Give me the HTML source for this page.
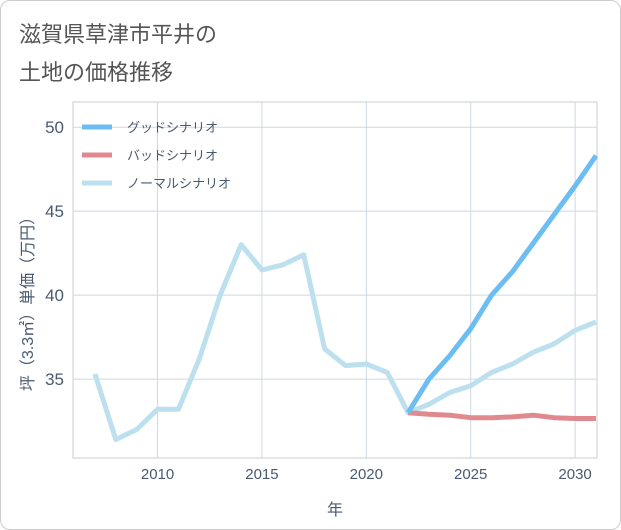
<!DOCTYPE html>
<html><head><meta charset="utf-8">
<style>
body{margin:0;background:#fff;}
#wrap{position:relative;width:619px;height:528px;border:1px solid #ccc;border-radius:10px;overflow:hidden;background:#fff;font-family:"Liberation Sans","Noto Sans CJK JP",sans-serif;}
.title{position:absolute;left:18px;color:#555;font-size:22px;}
</style></head><body>
<div id="wrap">
<div class="title" style="top:16px">滋賀県草津市平井の</div>
<div class="title" style="top:54px">土地の価格推移</div>
<svg id="chart" width="621" height="530" style="position:absolute;left:-1px;top:-1px"></svg>
</div>
<script>
const years=[2007,2008,2009,2010,2011,2012,2013,2014,2015,2016,2017,2018,2019,2020,2021,2022,2023,2024,2025,2026,2027,2028,2029,2030,2031];
const normalVals=[35.3,31.4,32.0,33.2,33.2,36.2,40.0,43.0,41.5,41.8,42.4,36.8,35.8,35.9,35.4,33.0,33.5,34.2,34.6,35.4,35.9,36.6,37.1,37.9,38.4];
const futureYears=[2022,2023,2024,2025,2026,2027,2028,2029,2030,2031];
const goodVals=[33.0,35.0,36.4,38.0,40.0,41.4,43.1,44.8,46.5,48.3];
const badVals=[33.0,32.9,32.85,32.7,32.7,32.75,32.85,32.7,32.65,32.65];
const xTicks=[2010,2015,2020,2025,2030];
const yTicks=[35,40,45,50];
const X0=73,X1=597,Y0=102,Y1=458;
const xd=[2005.95,2031.05],yd=[30.3,51.5];
const xs=v=>X0+(v-xd[0])/(xd[1]-xd[0])*(X1-X0);
const ys=v=>Y1-(v-yd[0])/(yd[1]-yd[0])*(Y1-Y0);
const svg=document.getElementById('chart');
const NS='http://www.w3.org/2000/svg';
const TC='#4a5a6e';
function mk(t,a,p){const e=document.createElementNS(NS,t);for(const k in a)e.setAttribute(k,a[k]);(p||svg).appendChild(e);return e;}
let r=mk('rect',{x:X0,y:Y0,width:X1-X0,height:Y1-Y0,fill:'none',stroke:'#c8ccd2'});

xTicks.forEach(t=>{let l=mk('line',{x1:xs(t),x2:xs(t),y1:Y0,y2:Y1,stroke:'#cfd8e2'});

let tx=mk('text',{x:xs(t),y:479,'text-anchor':'middle','font-size':15,fill:TC});tx.textContent=t;
});
yTicks.forEach(t=>{let l=mk('line',{x1:X0,x2:X1,y1:ys(t),y2:ys(t),stroke:'#cfd8e2'});

let tx=mk('text',{x:64,y:ys(t)+6,'text-anchor':'end','font-size':17,fill:TC});tx.textContent=t;
});
let xt=mk('text',{x:335,y:515,'text-anchor':'middle','font-size':16,fill:TC});xt.textContent='年';

let yt=mk('text',{x:0,y:0,'text-anchor':'middle','font-size':16,fill:TC,transform:'translate(33,300) rotate(-90)'});yt.textContent='坪（3.3㎡）単価（万円）';

function line(xv,yv,c,name){const d=xv.map((x,i)=>(i?'L':'M')+xs(x).toFixed(1)+','+ys(yv[i]).toFixed(1)).join('');
let p=mk('path',{d:d,fill:'none',stroke:c,'stroke-width':5,'stroke-linejoin':'round'});
}
line(years,normalVals,'#bde0ee','normal-scenario-line');
line(futureYears,badVals,'#e08a90','bad-scenario-line');
line(futureYears,goodVals,'#6cbdf2','good-scenario-line');
const leg=[['グッドシナリオ','#6cbdf2'],['バッドシナリオ','#e08a90'],['ノーマルシナリオ','#bde0ee']];
leg.forEach((l,i)=>{const y=127+i*28;
let s=mk('line',{x1:82,x2:112,y1:y,y2:y,stroke:l[1],'stroke-width':5});

let t=mk('text',{x:127,y:y+5,'font-size':13,fill:TC});t.textContent=l[0];
});
</script>
</body></html>
